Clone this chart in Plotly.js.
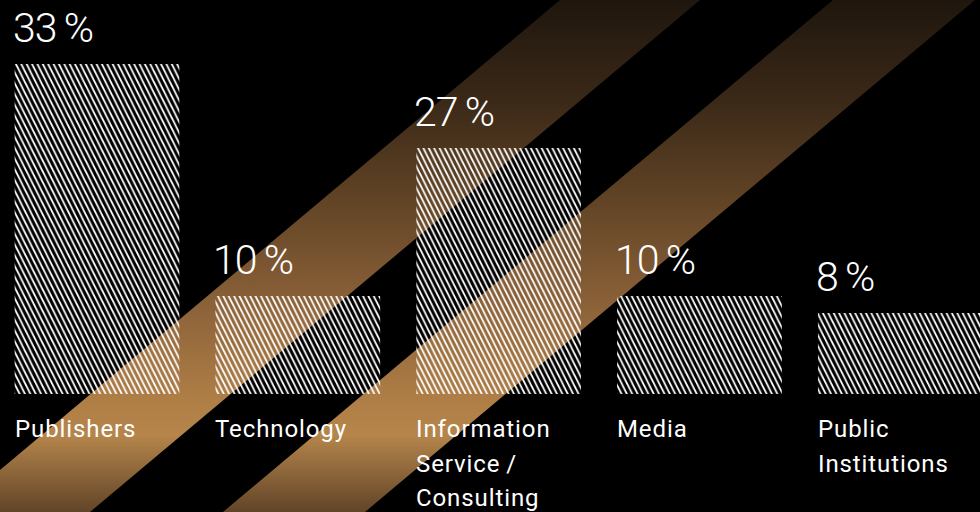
<!DOCTYPE html>
<html><head><meta charset="utf-8">
<script src="https://cdn.plot.ly/plotly-3.0.1.min.js"></script>
<style>html,body{margin:0;padding:0;background:#000;overflow:hidden}#chart{width:980px;height:512px}</style>
</head><body><div id="chart"></div>
<script>
// ---- data ----
const categories = ['Publishers', 'Technology', 'Information<br>Service\u2009/<br>Consulting', 'Media', 'Public<br>Institutions'];
const shares = [33, 10, 27, 10, 8];              // printed values (%)
const barHeights = [33, 9.8, 24.6, 9.8, 8.1];    // bar heights as drawn in the graphic
const shareLabels = shares.map(v => v + '\u2009%');

// ---- styling ----
const BAR_W = 0.82;
const FONT = 'Roboto, "Open Sans", sans-serif';
const xs = categories.map((c, i) => i);

const trace = {
  type: 'bar', x: xs, y: barHeights, width: BAR_W, hoverinfo: 'skip',
  marker: {
    color: '#ffffff', line: {width: 0},
    pattern: {shape: '\\', fgcolor: '#ffffff', bgcolor: 'rgba(0,0,0,0)', fillmode: 'replace', size: 7.6, solidity: 0.37}
  }
};

const annotations = [];
xs.forEach((x, i) => {
  annotations.push({
    x: x - BAR_W / 2, y: barHeights[i] + 3.6, xref: 'x', yref: 'y',
    text: shareLabels[i], showarrow: false, xanchor: 'left', yanchor: 'middle', align: 'left', xshift: -4,
    font: {family: FONT, size: 41, color: '#ffffff', weight: 300}
  });
  categories[i].split('<br>').forEach((line, k) => {
    annotations.push({
      x: x - BAR_W / 2, y: -3.5 - k * 3.45, xref: 'x', yref: 'y',
      text: line, showarrow: false, xanchor: 'left', yanchor: 'middle', align: 'left', xshift: -2,
      font: {family: FONT, size: 24, color: '#ffffff'}
    });
  });
});

// decorative diagonal gold bands (background image)
const bandSvg = "<svg xmlns='http://www.w3.org/2000/svg' width='980' height='512' viewBox='0 0 980 512'>" +
  "<defs><linearGradient id='g' x1='0' y1='0' x2='0' y2='512' gradientUnits='userSpaceOnUse'>" +
  "<stop offset='0' stop-color='#1f160d'/>" +
  "<stop offset='0.2' stop-color='#3b2918'/>" +
  "<stop offset='0.4' stop-color='#634526'/>" +
  "<stop offset='0.6' stop-color='#8c6239'/>" +
  "<stop offset='0.78' stop-color='#ae7e46'/>" +
  "<stop offset='0.85' stop-color='#b5854b'/>" +
  "<stop offset='1' stop-color='#614428'/>" +
  "</linearGradient></defs>" +
  "<polygon points='560,0 700,0 90,512 -50,512' fill='url(#g)'/>" +
  "<polygon points='833,0 975,0 365,512 223,512' fill='url(#g)'/>" +
  "</svg>";

const layout = {
  width: 980, height: 512,
  margin: {l: 0, r: 0, t: 0, b: 0, pad: 0},
  paper_bgcolor: '#000000', plot_bgcolor: 'rgba(0,0,0,0)',
  showlegend: false,
  xaxis: {range: [-0.483, 4.397], visible: false, fixedrange: true},
  yaxis: {range: [-11.8, 39.4], visible: false, fixedrange: true},
  images: [{
    source: 'data:image/svg+xml;base64,' + btoa(bandSvg),
    xref: 'paper', yref: 'paper', x: 0, y: 1, sizex: 1, sizey: 1,
    xanchor: 'left', yanchor: 'top', sizing: 'stretch', layer: 'below'
  }],
  annotations: annotations
};

Plotly.newPlot('chart', [trace], layout, {staticPlot: true, displayModeBar: false}).then(() => {
  document.querySelectorAll('#chart pattern').forEach(p => p.setAttribute('patternTransform', 'scale(0.5,1)'));
  document.querySelectorAll('#chart .annotation-text').forEach(t => {
    const fs = parseFloat(t.style.fontSize);
    t.style.letterSpacing = fs > 30 ? '-1px' : '0.9px';
  });
});
</script>
</body></html>
